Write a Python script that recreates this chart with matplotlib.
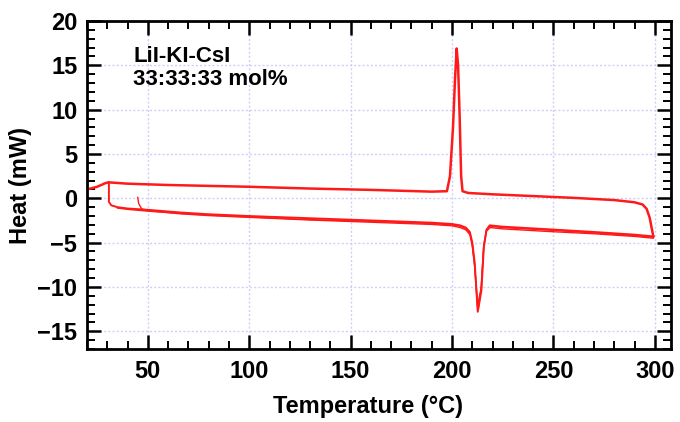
import numpy as np
import matplotlib
matplotlib.use("Agg")
from matplotlib import pyplot as plt
from matplotlib.ticker import MultipleLocator

plt.rcParams['font.family'] = ['Liberation Sans', 'DejaVu Sans']
plt.rcParams['font.weight'] = 'bold'

# cooling trace (upper line, crystallisation peak)
cool_x = [20, 25, 29, 30.5, 40, 60, 80, 100, 130, 160, 190, 197.5, 199, 200.5,
          201.5, 202.3, 203, 203.8, 204.5, 205.2, 208, 220, 240, 260, 280, 290,
          294, 296, 297.5, 298.5, 299.3]
cool_y = [1.0, 1.3, 1.7, 1.8, 1.65, 1.5, 1.4, 1.3, 1.1, 0.95, 0.75, 0.8, 2.5, 8.0,
          13.5, 16.9, 15.0, 9.0, 2.5, 0.8, 0.6, 0.45, 0.25, 0.05, -0.2, -0.45,
          -0.7, -1.2, -2.2, -3.4, -4.3]

# heating runs (lower lines, melting dip)
heat1_x = [30.8, 30.8, 32, 35, 40, 50, 66, 80, 100, 130, 160, 190, 200, 204, 206.8,
           208.8, 210, 211.2, 212.7, 214.5, 215.7, 217, 218.6, 225, 248, 270, 290, 299.3]
heat1_y = [1.8, -0.4, -0.8, -1.0, -1.15, -1.3, -1.6, -1.8, -2.0, -2.25, -2.5, -2.75,
           -2.9, -3.05, -3.3, -3.8, -5.0, -7.3, -12.8, -10.4, -5.5, -3.6, -3.05,
           -3.2, -3.5, -3.8, -4.1, -4.3]

heat2_x = [45, 45.5, 47, 50, 66, 80, 100, 130, 160, 190, 200, 204, 206.8, 208.8, 210,
           211.2, 212.9, 214.5, 215.7, 217, 218.8, 225, 248, 270, 290, 299.3]
heat2_y = [0.1, -0.6, -1.2, -1.4, -1.75, -1.95, -2.15, -2.45, -2.7, -2.95, -3.1,
           -3.3, -3.55, -4.1, -5.4, -7.8, -12.6, -10.0, -5.2, -3.7, -3.3, -3.45,
           -3.75, -4.0, -4.3, -4.5]

heat3_x = [35, 40, 50, 66, 80, 100, 130, 160, 190, 200, 204, 206.8, 208.8, 210,
           211.2, 212.5, 214.3, 215.6, 217, 218.4, 225, 248, 270, 290, 299.3]
heat3_y = [-1.1, -1.25, -1.45, -1.7, -1.9, -2.1, -2.4, -2.6, -2.85, -3.0, -3.15,
           -3.4, -3.9, -5.1, -7.5, -12.2, -10.2, -5.6, -3.5, -3.15, -3.3, -3.6,
           -3.9, -4.2, -4.4]

red = "#ff1a1a"

fig = plt.figure(figsize=(6.8, 4.22), dpi=100)
ax = fig.add_axes([87 / 680, 1 - 349 / 422, (671 - 87) / 680, (349 - 21) / 422])

ax.plot(heat3_x, heat3_y, color=red, linewidth=1.0)
ax.plot(heat2_x, heat2_y, color=red, linewidth=1.0)
ax.plot(heat1_x, heat1_y, color=red, linewidth=1.4)
ax.plot(cool_x, cool_y, color=red, linewidth=1.8)

ax.set_xlim(20, 308)
ax.set_ylim(-17, 20)
ax.xaxis.set_major_locator(MultipleLocator(50))
ax.xaxis.set_minor_locator(MultipleLocator(10))
ax.yaxis.set_major_locator(MultipleLocator(5))
ax.yaxis.set_minor_locator(MultipleLocator(1))

ax.grid(True, which="major", color="#cfcff7", linestyle=(0, (1.5, 1.5)), linewidth=1.0)
ax.set_axisbelow(True)

ax.tick_params(which="both", direction="in", top=True, right=True, labelsize=17,
               colors="black")
ax.tick_params(which="major", length=10, width=1.8)
ax.tick_params(which="minor", length=5.5, width=1.4)
ax.tick_params(axis="x", which="major", pad=8)
ax.tick_params(axis="y", which="major", pad=7)
for sp in ax.spines.values():
    sp.set_linewidth(2.0)

ax.set_xlabel("Temperature (°C)", fontsize=17, fontweight="bold")
ax.set_ylabel("Heat (mW)", fontsize=17, fontweight="bold", labelpad=4)
ax.xaxis.set_label_coords(0.481, -0.14)

ax.text(0.079, 0.925, "LiI-KI-CsI\n33:33:33 mol%", transform=ax.transAxes,
        fontsize=16, fontweight="bold", va="top", ha="left", linespacing=1.15)

fig.savefig("out.png", dpi=100)
